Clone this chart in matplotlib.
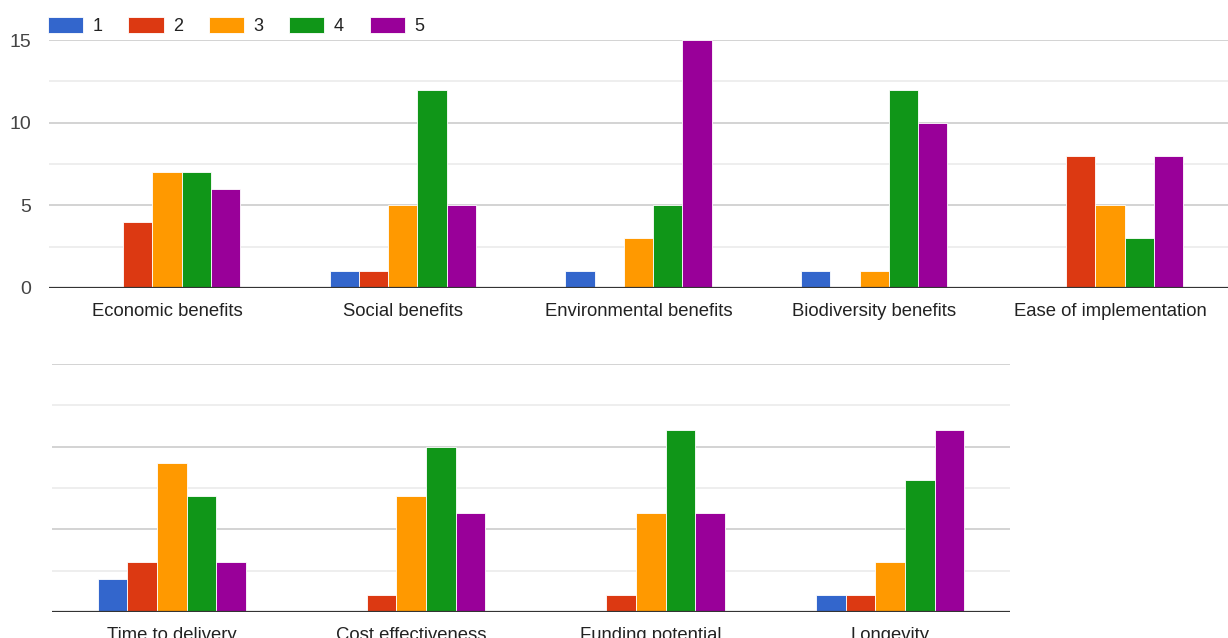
"""Grouped bar charts of survey ratings (1-5) per criterion, Google Forms style."""

import matplotlib
matplotlib.use("Agg")
import matplotlib.pyplot as plt
import numpy as np

plt.rcParams["font.family"] = ["Liberation Sans", "DejaVu Sans"]

RATINGS = ["1", "2", "3", "4", "5"]
COLORS = ["#3366CC", "#DC3912", "#FF9900", "#109618", "#990099"]

TOP_CATEGORIES = [
    "Economic benefits", "Social benefits", "Environmental benefits",
    "Biodiversity benefits", "Ease of implementation",
]
# counts per rating, one list per rating
TOP_R1 = [0, 1, 1, 1, 0]
TOP_R2 = [4, 1, 0, 0, 8]
TOP_R3 = [7, 5, 3, 1, 5]
TOP_R4 = [7, 12, 5, 12, 3]
TOP_R5 = [6, 5, 15, 10, 8]

BOTTOM_CATEGORIES = [
    "Time to delivery", "Cost effectiveness", "Funding potential", "Longevity",
]
BOT_R1 = [2, 0, 0, 1]
BOT_R2 = [3, 1, 1, 1]
BOT_R3 = [9, 7, 6, 3]
BOT_R4 = [7, 10, 11, 8]
BOT_R5 = [3, 6, 6, 11]

Y_MAX = 15
MAJOR_TICKS = [0, 5, 10, 15]
MINOR_TICKS = [2.5, 7.5, 12.5]

BAR_W = 0.124
TEXT_COLOR = "#222222"


def draw_panel(ax, categories, series, show_yticks):
    x = np.arange(len(categories))
    n = len(series)
    for i, (vals, color, label) in enumerate(zip(series, COLORS, RATINGS)):
        offs = (i - (n - 1) / 2) * BAR_W
        ax.bar(x + offs, vals, width=BAR_W, color=color, edgecolor="white",
               linewidth=0.6, label=label, zorder=3)

    ax.set_xlim(-0.5, len(categories) - 0.5)
    ax.set_ylim(0, Y_MAX)
    ax.set_xticks(x)
    ax.set_xticklabels(categories, fontsize=13.3, color=TEXT_COLOR)
    ax.tick_params(axis="x", length=0, pad=11)

    ax.set_yticks(MAJOR_TICKS)
    ax.set_yticks(MINOR_TICKS, minor=True)
    if show_yticks:
        ax.set_yticklabels([str(t) for t in MAJOR_TICKS], fontsize=14, color="#444444")
    else:
        ax.set_yticklabels([])
    ax.tick_params(axis="y", which="both", length=0, pad=13)

    ax.grid(axis="y", which="major", color="#cccccc", linewidth=1.2, zorder=0)
    ax.grid(axis="y", which="minor", color="#ebebeb", linewidth=1.2, zorder=0)
    ax.axhline(0, color="#333333", linewidth=1.6, zorder=4)

    for s in ax.spines.values():
        s.set_visible(False)


def main() -> None:
    fig = plt.figure(figsize=(12.28, 6.38), dpi=100)

    ax_top = fig.add_axes([49 / 1228, 1 - 288 / 638, 1 - 49 / 1228, 248 / 638])
    draw_panel(ax_top, TOP_CATEGORIES, [TOP_R1, TOP_R2, TOP_R3, TOP_R4, TOP_R5], True)

    ax_bot = fig.add_axes([52 / 1228, 1 - 612 / 638, 958 / 1228, 248 / 638])
    draw_panel(ax_bot, BOTTOM_CATEGORIES, [BOT_R1, BOT_R2, BOT_R3, BOT_R4, BOT_R5], False)

    ax_top.legend(
        loc="lower left", bbox_to_anchor=(-0.005, 1.0), ncol=5, frameon=False,
        fontsize=13, handlelength=1.95, handleheight=0.95, handletextpad=0.5,
        columnspacing=1.45, borderaxespad=0.27, borderpad=0.0,
        labelcolor=TEXT_COLOR,
    )

    fig.savefig("out.png", dpi=100)


if __name__ == "__main__":
    main()
